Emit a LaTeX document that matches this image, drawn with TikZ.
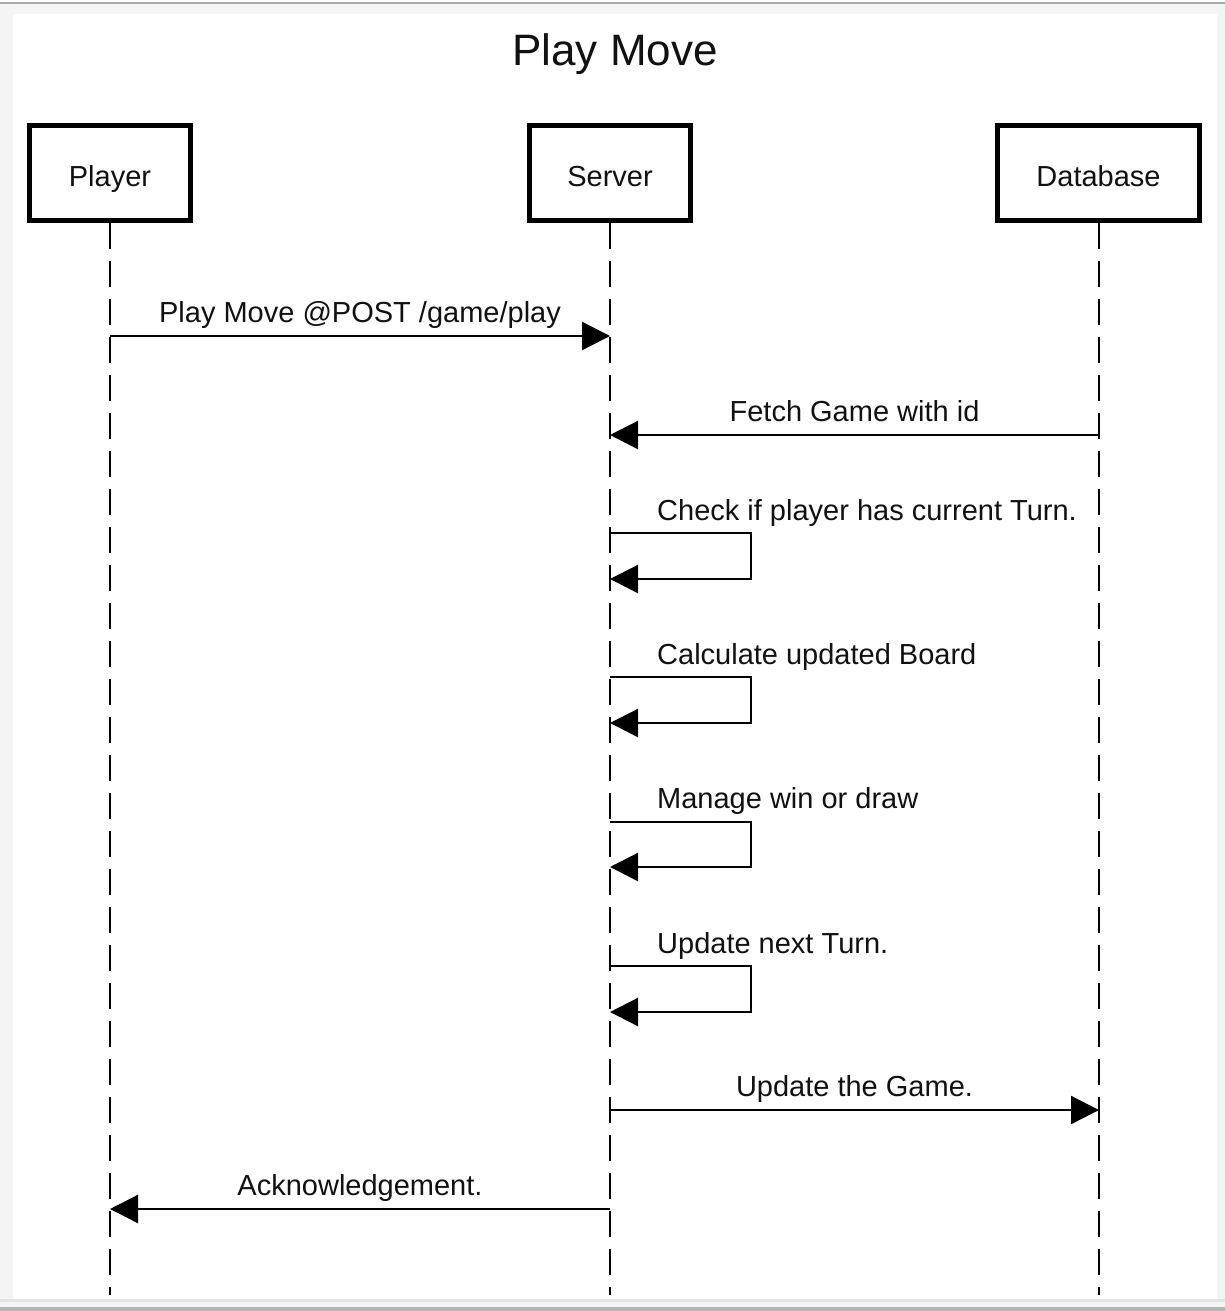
\documentclass[tikz,border=0pt]{standalone}
\usepackage{fontspec}
\setmainfont{Liberation Sans}
\usetikzlibrary{arrows.meta}
\definecolor{bggray}{HTML}{F4F4F4}
\definecolor{topgray}{HTML}{A9A9A9}
\definecolor{botgray}{HTML}{B5B5B5}
\definecolor{ltgray}{HTML}{E4E4E4}
\definecolor{ink}{HTML}{111111}
\begin{document}
\begin{tikzpicture}[x=1pt,y=-1pt,
  actor/.style={draw=black, line width=4.5pt, fill=white, minimum height=95pt,
    inner sep=0pt, text height=27pt, text depth=0pt, text=ink,
    font=\fontsize{29}{34}\selectfont},
  lifeline/.style={line width=2.3pt, dash pattern=on 26pt off 12pt, draw=black},
  msg/.style={line width=2.3pt, draw=black, -{Triangle[length=28pt,width=28pt]}},
  lbl/.style={font=\fontsize{29}{34}\selectfont, inner sep=0pt, anchor=base, text=ink},
  slbl/.style={lbl, anchor=base west}]
% frame
\useasboundingbox (0,0) rectangle (1225,1311);
\fill[bggray] (0,0) rectangle (1225,1311);
\fill[white] (0,0) rectangle (1225,2);
\fill[topgray] (0,2) rectangle (1225,4.5);
\fill[white] (13,14) rectangle (1217,1299);
\fill[ltgray] (0,1299) rectangle (1225,1302);
\fill[botgray] (0,1306.5) rectangle (1225,1311);
% title
\node[font=\fontsize{44}{50}\selectfont, anchor=base, inner sep=0pt, text=ink] (title) at (615,66) {Play Move};
% actors
\node[actor, minimum width=161pt] (player) at (110,173) {Player};
\node[actor, minimum width=161pt] (server) at (610,173) {Server};
\node[actor, minimum width=202pt] (db) at (1098.5,173) {Database};
% lifeline ends
\coordinate (pend) at (110,1295);
\coordinate (send) at (610,1295);
\coordinate (dend) at (1099,1295);
\draw[lifeline] (player.south) -- (pend);
\draw[lifeline] (server.south) -- (send);
\draw[lifeline] ([xshift=0.5pt]db.south) -- (dend);
% message 1
\coordinate (m1a) at (110,336); \coordinate (m1b) at (610,336);
\draw[msg] (m1a) -- (m1b);
\node[lbl] (l1) at (360,322) {Play Move @POST /game/play};
% message 2
\coordinate (m2a) at (1099,435); \coordinate (m2b) at (610,435);
\draw[msg] (m2a) -- (m2b);
\node[lbl] (l2) at (854.5,421) {Fetch Game with id};
% self messages
\coordinate (m3a) at (610,533); \coordinate (m3b) at (610,579);
\draw[msg] (m3a) -- ++(141,0) -- ++(0,46) -- (m3b);
\node[slbl] (l3) at (657,520) {Check if player has current Turn.};
\coordinate (m4a) at (610,677); \coordinate (m4b) at (610,723);
\draw[msg] (m4a) -- ++(141,0) -- ++(0,46) -- (m4b);
\node[slbl] (l4) at (657,664) {Calculate updated Board};
\coordinate (m5a) at (610,822); \coordinate (m5b) at (610,867);
\draw[msg] (m5a) -- ++(141,0) -- ++(0,45) -- (m5b);
\node[slbl] (l5) at (657,808) {Manage win or draw};
\coordinate (m6a) at (610,966); \coordinate (m6b) at (610,1012);
\draw[msg] (m6a) -- ++(141,0) -- ++(0,46) -- (m6b);
\node[slbl] (l6) at (657,953) {Update next Turn.};
% message 7
\coordinate (m7a) at (610,1110); \coordinate (m7b) at (1099,1110);
\draw[msg] (m7a) -- (m7b);
\node[lbl] (l7) at (854.5,1096) {Update the Game.};
% message 8
\coordinate (m8a) at (610,1209); \coordinate (m8b) at (110,1209);
\draw[msg] (m8a) -- (m8b);
\node[lbl] (l8) at (360,1195) {Acknowledgement.};
\end{tikzpicture}
\end{document}
